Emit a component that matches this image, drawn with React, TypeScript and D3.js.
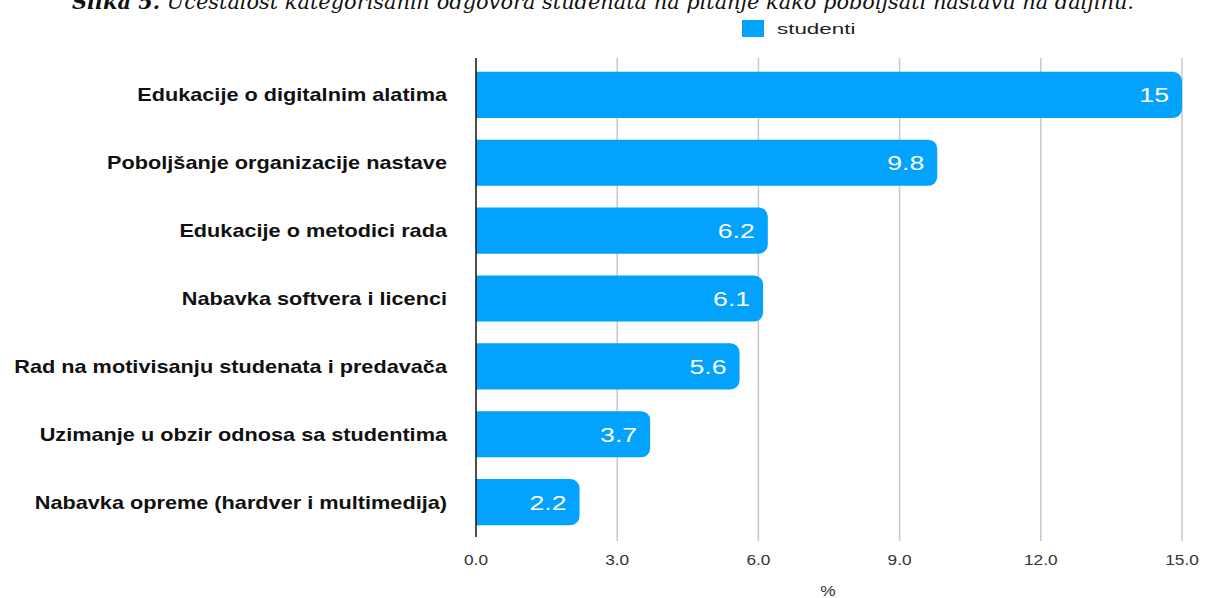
import React from "react";
import * as d3 from "d3";

const categories = [
  "Edukacije o digitalnim alatima",
  "Poboljšanje organizacije nastave",
  "Edukacije o metodici rada",
  "Nabavka softvera i licenci",
  "Rad na motivisanju studenata i predavača",
  "Uzimanje u obzir odnosa sa studentima",
  "Nabavka opreme (hardver i multimedija)",
];
const values = [15, 9.8, 6.2, 6.1, 5.6, 3.7, 2.2];
const valueLabels = ["15", "9.8", "6.2", "6.1", "5.6", "3.7", "2.2"];
const xTicks = [0, 3, 6, 9, 12, 15];
const seriesName = "studenti";
const axisTitle = "%";
const titleBold = "Slika 5.";
const titleRest = " Učestalost kategorisanih odgovora studenata na pitanje kako poboljšati nastavu na daljinu.";

const W = 1205;
const H = 598;
const left = 476;
const right = 1182;
const top = 61;
const bottom = 536;
const barColor = "#03a2fc";
const sans = "'Liberation Sans', Arial, Helvetica, sans-serif";

function barPath(x0: number, x1: number, y0: number, h: number, r: number) {
  const rr = Math.min(r, x1 - x0, h / 2);
  return `M${x0},${y0}H${x1 - rr}A${rr},${rr} 0 0 1 ${x1},${y0 + rr}V${y0 + h - rr}A${rr},${rr} 0 0 1 ${x1 - rr},${y0 + h}H${x0}Z`;
}

function SText(props: {
  x: number; y: number; sx: number; size: number; anchor?: string; weight?: string; fill: string; children: React.ReactNode;
}) {
  const { x, y, sx, size, anchor, weight, fill, children } = props;
  return (
    <text
      transform={`translate(${x},${y}) scale(${sx},1)`}
      textAnchor={anchor || "start"}
      fontFamily={sans}
      fontSize={size}
      fontWeight={weight || "normal"}
      fill={fill}
    >
      {children}
    </text>
  );
}

export default function App() {
  const x = d3.scaleLinear().domain([0, 15]).range([left, right]);
  const y = d3.scaleBand<string>().domain(categories).range([top, bottom]).paddingInner(0.32).paddingOuter(0.16);
  const bh = y.bandwidth();

  return (
    <svg width={W} height={H} style={{ position: "absolute", left: 0, top: 0, background: "#fff" }}>
      <text x={72} y={9} fontFamily="'DejaVu Serif', 'Liberation Serif', serif" fontStyle="italic" fontSize={20} fill="#111" textLength={1062} lengthAdjust="spacingAndGlyphs">
        <tspan fontWeight="bold">{titleBold}</tspan>
        <tspan>{titleRest}</tspan>
      </text>
      <rect x={742} y={20} width={22} height={17} fill={barColor} />
      <SText x={777} y={34} sx={1.6} size={14} fill="#222">{seriesName}</SText>

      {xTicks.slice(1).map((t) => (
        <line key={t} x1={x(t)} x2={x(t)} y1={58} y2={541} stroke="#c8c8c8" strokeWidth={1.5} />
      ))}

      {categories.map((c, i) => {
        const y0 = y(c)!;
        const x1 = x(values[i]);
        return (
          <g key={c}>
            <path d={barPath(x(0), x1, y0, bh, 9)} fill={barColor} />
            <SText x={x1 - 13} y={y0 + bh / 2 + 7.5} sx={1.3} size={20.5} anchor="end" fill="#fff">
              {valueLabels[i]}
            </SText>
            <SText x={447} y={y0 + bh / 2 + 6.5} sx={1.24} size={17.5} anchor="end" weight="bold" fill="#111">
              {c}
            </SText>
          </g>
        );
      })}

      <line x1={x(0)} x2={x(0)} y1={58} y2={537} stroke="#111" strokeWidth={1.5} />

      {xTicks.map((t) => (
        <SText key={t} x={x(t)} y={565} sx={1.15} size={15} anchor="middle" fill="#333">
          {d3.format(".1f")(t)}
        </SText>
      ))}
      <SText x={828} y={596} sx={1.15} size={15} anchor="middle" fill="#333">{axisTitle}</SText>
    </svg>
  );
}
